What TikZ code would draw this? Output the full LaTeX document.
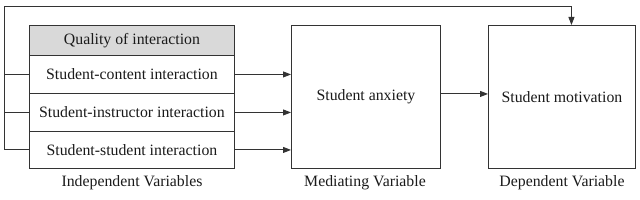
\documentclass[tikz,border=0pt]{standalone}
\usepackage{fontspec}
\setmainfont{Liberation Serif}
\usepackage{xcolor}
\usetikzlibrary{arrows.meta,calc}
\definecolor{figink}{HTML}{1A1A1A}
\definecolor{figline}{HTML}{333333}
\definecolor{fighead}{HTML}{D9D9D9}

\begin{document}
\begin{tikzpicture}[
  x=1pt, y=-1pt,
  font=\fontsize{15.8}{18}\selectfont,
  cell/.style={
    draw=figline,
    fill=white,
    text=figink,
    line width=0.9pt,
    minimum width=205pt,
    inner sep=0pt,
    anchor=north west
  },
  varbox/.style={
    draw=figline,
    fill=white,
    text=figink,
    line width=0.9pt,
    minimum width=148pt,
    minimum height=143pt,
    inner sep=0pt,
    anchor=north west
  },
  caption/.style={
    text=figink,
    inner sep=0pt
  },
  link/.style={
    draw=figline,
    line width=0.9pt
  },
  flow/.style={
    draw=figline,
    line width=0.9pt,
    -{Triangle[length=8pt,width=6pt]}
  }
]
\useasboundingbox (0,0) rectangle (640,200);

% independent variables
\node[cell,fill=fighead,minimum height=30pt] (head) at (29,25) {Quality of interaction};
\node[cell,minimum height=38pt] (sc) at (29,55) {Student-content interaction};
\node[cell,minimum height=38pt] (si) at (29,93) {Student-instructor interaction};
\node[cell,minimum height=37pt] (ss) at (29,131) {Student-student interaction};

% mediating and dependent variables
\node[varbox,minimum width=149pt] (anx) at (291,25) {Student anxiety};
\node[varbox,minimum width=147pt] (mot) at (488,25) {Student motivation};

\node[caption] (indlab) at (132,183) {Independent Variables};
\node[caption] (medlab) at (365,183) {Mediating Variable};
\node[caption] (deplab) at (562,183) {Dependent Variable};

\draw[flow] (sc.east) -- (sc.east -| anx.west);
\draw[flow] (si.east) -- (si.east -| anx.west);
\draw[flow] (ss.east) -- (ss.east -| anx.west);
\draw[flow] ($(anx.east)+(0,-3)$) -- ($(mot.west)+(0,-3)$);

% direct path round the top
\coordinate (spinetop) at (4,6);
\coordinate (motin) at ($(mot.north)+(9.5,0)$);
\draw[link] (sc.west) -- (sc.west -| spinetop);
\draw[link] (si.west) -- (si.west -| spinetop);
\draw[link] (ss.west) -- (ss.west -| spinetop) -- (spinetop);
\draw[flow] (spinetop) -| (motin);

\end{tikzpicture}
\end{document}
